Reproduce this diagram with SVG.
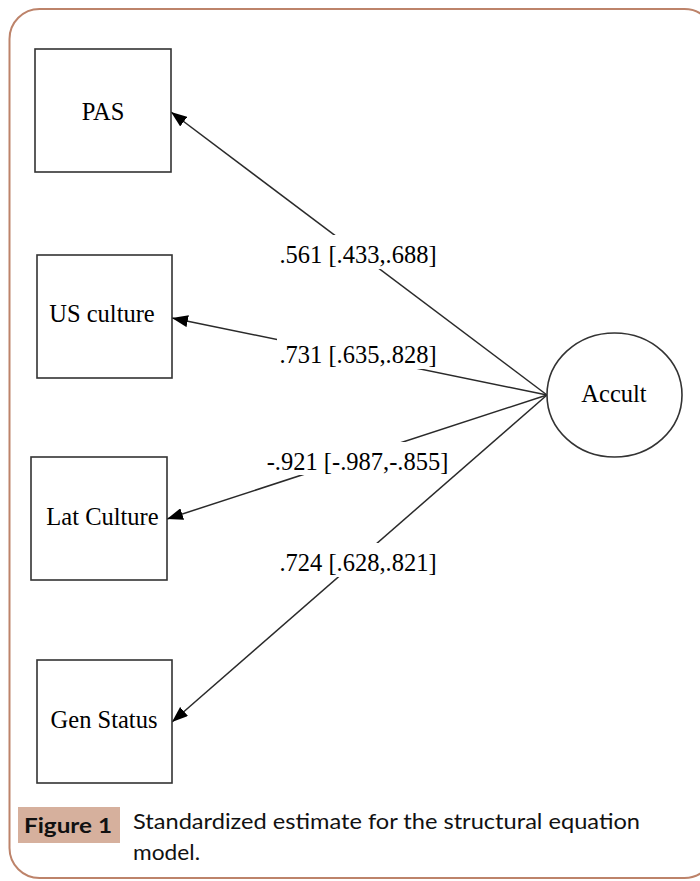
<svg xmlns="http://www.w3.org/2000/svg" width="700" height="881" viewBox="0 0 700 881">
<defs>
<marker id="arr" viewBox="0 0 16 12" refX="16" refY="6" markerWidth="16" markerHeight="12" markerUnits="userSpaceOnUse" orient="auto">
<path d="M0,0 L16,6 L0,12 Z" fill="#000"/>
</marker>
</defs>
<style>
.box{fill:#fff;stroke:#333;stroke-width:1.6}
.t{font-family:"Liberation Serif","Times New Roman",serif;font-size:24.5px;fill:#000;text-anchor:middle}
.e{fill:none;stroke:#2a2a2a;stroke-width:1.5;marker-end:url(#arr)}
.bg{fill:#fff}
.cap{font-family:Lato,"Open Sans",sans-serif;font-size:21px;fill:#111}
</style>
<rect x="0" y="0" width="700" height="881" fill="#fff"/>
<rect id="frame" x="9.5" y="9" width="705" height="869" rx="30" ry="30" fill="none" stroke="#bd836a" stroke-width="2"/>
<g id="connectors">
<line class="e" x1="547" y1="395" x2="171" y2="112"/>
<line class="e" x1="547" y1="395" x2="172" y2="318"/>
<line class="e" x1="547" y1="395" x2="167" y2="519"/>
<line class="e" x1="547" y1="395" x2="172" y2="722"/>
<rect class="bg" x="277" y="235" width="164" height="34"/>
<text class="t" x="358" y="263">.561 [.433,.688]</text>
<rect class="bg" x="277" y="335" width="166" height="34"/>
<text class="t" x="358" y="363">.731 [.635,.828]</text>
<rect class="bg" x="264" y="442" width="190" height="33"/>
<text class="t" x="357.5" y="470">-.921 [-.987,-.855]</text>
<rect class="bg" x="277" y="543" width="166" height="34"/>
<text class="t" x="358" y="571">.724 [.628,.821]</text>
</g>
<g id="PAS">
<rect class="box" x="35" y="49" width="136" height="123"/>
<text class="t" x="103" y="120">PAS</text>
</g>
<g id="USculture">
<rect class="box" x="37" y="255" width="135" height="123"/>
<text class="t" x="102" y="322">US culture</text>
</g>
<g id="LatCulture">
<rect class="box" x="31" y="457" width="136" height="123"/>
<text class="t" x="102.5" y="525">Lat Culture</text>
</g>
<g id="GenStatus">
<rect class="box" x="37" y="660" width="135" height="123"/>
<text class="t" x="104" y="728">Gen Status</text>
</g>
<g id="Accult">
<ellipse cx="614.5" cy="395" rx="67.5" ry="62" fill="#fff" stroke="#333" stroke-width="1.6"/>
<text class="t" x="614" y="402">Accult</text>
</g>
<g id="caption">
<rect x="18" y="807" width="102" height="36" fill="#d6b09d"/>
<text class="cap" x="24" y="833" font-weight="bold" textLength="88" lengthAdjust="spacingAndGlyphs">Figure 1</text>
<text class="cap" x="133" y="829" textLength="507" lengthAdjust="spacingAndGlyphs">Standardized estimate for the structural equation</text>
<text class="cap" x="133" y="860" textLength="67" lengthAdjust="spacingAndGlyphs">model.</text>
</g>
</svg>
